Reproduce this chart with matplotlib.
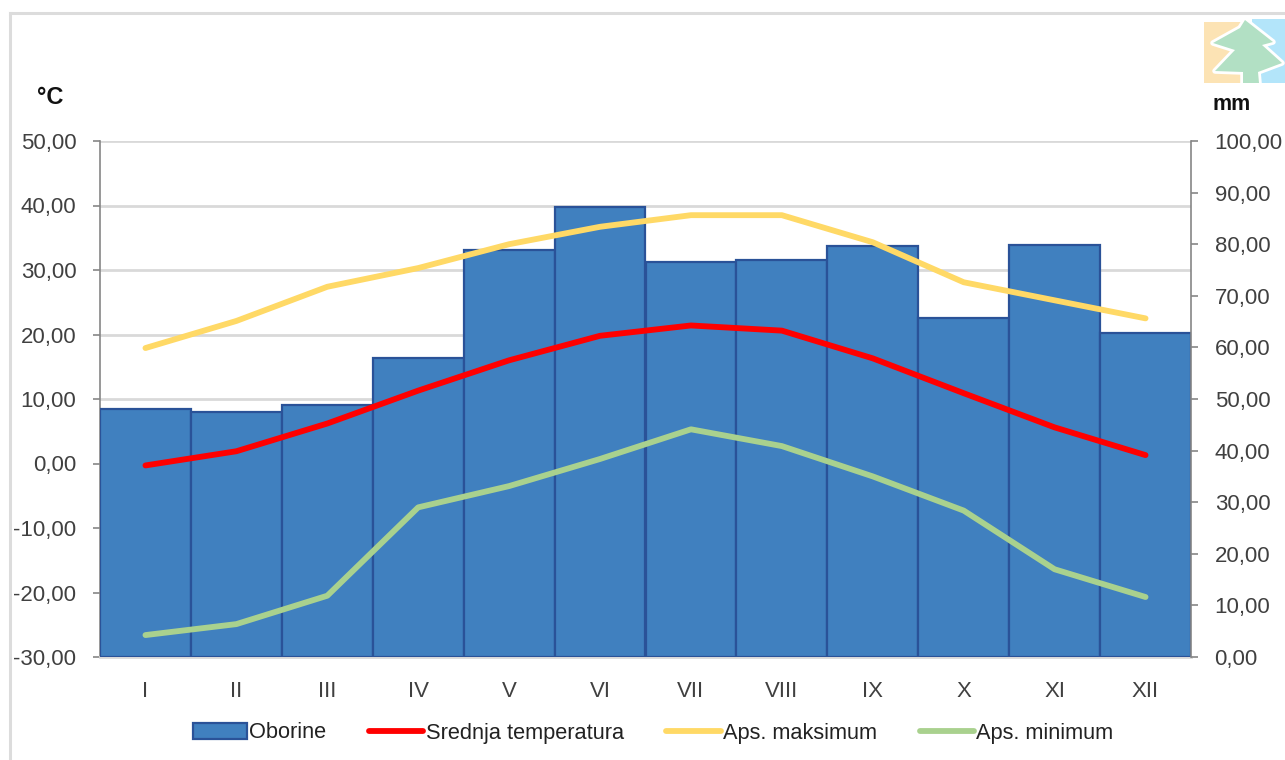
import matplotlib
matplotlib.use("Agg")
import matplotlib.pyplot as plt
from matplotlib.patches import Polygon, Rectangle
from matplotlib.lines import Line2D

plt.rcParams['font.family'] = ['Liberation Sans', 'DejaVu Sans']

# ---------- Monthly climate values ----------
months = ["I", "II", "III", "IV", "V", "VI", "VII", "VIII", "IX", "X", "XI", "XII"]
precipitation = [48.1, 47.5, 48.8, 57.9, 78.9, 87.2, 76.6, 76.9, 79.7, 65.7, 79.8, 62.8]
mean_temp = [-0.3, 1.9, 6.2, 11.3, 16.0, 19.8, 21.4, 20.6, 16.3, 10.9, 5.6, 1.3]
abs_max = [17.9, 22.1, 27.4, 30.3, 34.0, 36.7, 38.5, 38.5, 34.3, 28.1, 25.3, 22.5]
abs_min = [-26.6, -24.9, -20.5, -6.8, -3.5, 0.7, 5.3, 2.7, -2.0, -7.3, -16.4, -20.7]
temp_ticks = [-30, -20, -10, 0, 10, 20, 30, 40, 50]
mm_ticks = [0, 10, 20, 30, 40, 50, 60, 70, 80, 90, 100]

W, H = 1285, 760
fig = plt.figure(figsize=(W / 100, H / 100), dpi=100)

def fig_rect(x0, y0, x1, y1):
    # pixel box (top-left origin) to figure fractions
    return [x0 / W, 1 - y1 / H, (x1 - x0) / W, (y1 - y0) / H]

TICK_COL = "#404040"
AXIS_COL = "#868686"
GRID_COL = "#D9D9D9"
BAR_COL = "#4080BF"
BAR_EDGE = "#2A5298"

# Outer chart frame, open at the bottom and on the right
fig.add_artist(Line2D([10 / W, 10 / W], [0, 1 - 13 / H], color="#DCDCDC", lw=2.2))
fig.add_artist(Line2D([10 / W, 1], [1 - 13 / H, 1 - 13 / H], color="#DCDCDC", lw=2.2))

# ---------- Temperature axis with grid ----------
ax = fig.add_axes(fig_rect(100, 141, 1191, 657))
x = list(range(len(months)))
ax.set_xlim(-0.5, 11.5)
ax.set_ylim(-30, 50)
ax.set_yticks(temp_ticks)
ax.set_yticklabels([f"{v},00" for v in temp_ticks], fontsize=16, color=TICK_COL)
ax.set_xticks(x)
ax.set_xticklabels(months, fontsize=16, color=TICK_COL)
ax.tick_params(axis="x", length=0, pad=17.5)
ax.tick_params(axis="y", length=5, width=1.2, color=AXIS_COL, pad=12)
ax.grid(axis="y", color=GRID_COL, lw=2)
ax.set_axisbelow(True)
ax.spines["top"].set_visible(False)
ax.spines["right"].set_visible(False)
ax.spines["left"].set_color(AXIS_COL)
ax.spines["left"].set_linewidth(1.2)
ax.spines["bottom"].set_color(GRID_COL)
ax.spines["bottom"].set_linewidth(2)

# ---------- Precipitation bars on the right axis ----------
ax_mm = ax.twinx()
bars = ax_mm.bar(x, precipitation, width=1.0, color=BAR_COL, edgecolor=BAR_EDGE, linewidth=1.6, label="Oborine")
ax_mm.set_ylim(0, 100)
ax_mm.set_yticks(mm_ticks)
ax_mm.set_yticklabels([f"{v},00" for v in mm_ticks], fontsize=16, color=TICK_COL)
ax_mm.tick_params(axis="y", length=5, width=1.2, color=AXIS_COL, pad=12)
for side in ["top", "left", "bottom"]:
    ax_mm.spines[side].set_visible(False)
ax_mm.spines["right"].set_color(AXIS_COL)
ax_mm.spines["right"].set_linewidth(1.2)

# ---------- Temperature lines above the bars ----------
ax_line = ax.twinx()
ax_line.set_ylim(-30, 50)
ax_line.axis("off")
l1, = ax_line.plot(x, mean_temp, color="#FF0000", lw=4.2, solid_capstyle="round", label="Srednja temperatura")
l2, = ax_line.plot(x, abs_max, color="#FFD966", lw=4.2, solid_capstyle="round", label="Aps. maksimum")
l3, = ax_line.plot(x, abs_min, color="#A9D18E", lw=4.2, solid_capstyle="round", label="Aps. minimum")

# Axis units
fig.text(50 / W, 1 - 98 / H, "°C", fontsize=17, fontweight="bold", color="#111111", ha="center", va="center")
fig.text(1232 / W, 1 - 105 / H, "mm", fontsize=15.5, fontweight="bold", color="#111111", ha="center", va="center")

fig.legend(handles=[bars, l1, l2, l3], loc="center", bbox_to_anchor=(653 / W, 1 - 733 / H), ncol=4,
           frameon=False, fontsize=15.7, handlelength=2.5, handleheight=0.75, handletextpad=0.1,
           columnspacing=1.95, labelcolor="#222222")

# ---------- Forest logo in the top right corner ----------
ax_logo = fig.add_axes(fig_rect(1204, 18, 1285, 84))
ax_logo.set_xlim(1204, 1285)
ax_logo.set_ylim(84, 18)
ax_logo.axis("off")
ax_logo.add_patch(Rectangle((1204, 22), 38, 61, color="#FCE3B4", lw=0))
ax_logo.add_patch(Rectangle((1252, 19), 33, 64, color="#B3E5FA", lw=0))
tree = [(1245, 20), (1273, 42), (1262, 45), (1282, 63), (1258, 72), (1259, 83), (1243, 83),
        (1243, 72), (1215, 71), (1235, 50), (1213, 43), (1240, 28)]
# white halo first so the outline sits outside the green fill
ax_logo.add_patch(Polygon(tree, closed=True, facecolor="white", edgecolor="white", lw=4, joinstyle="round"))
ax_logo.add_patch(Polygon(tree, closed=True, facecolor="#B2E0C4", edgecolor="none"))

fig.savefig("out.png", dpi=100)
